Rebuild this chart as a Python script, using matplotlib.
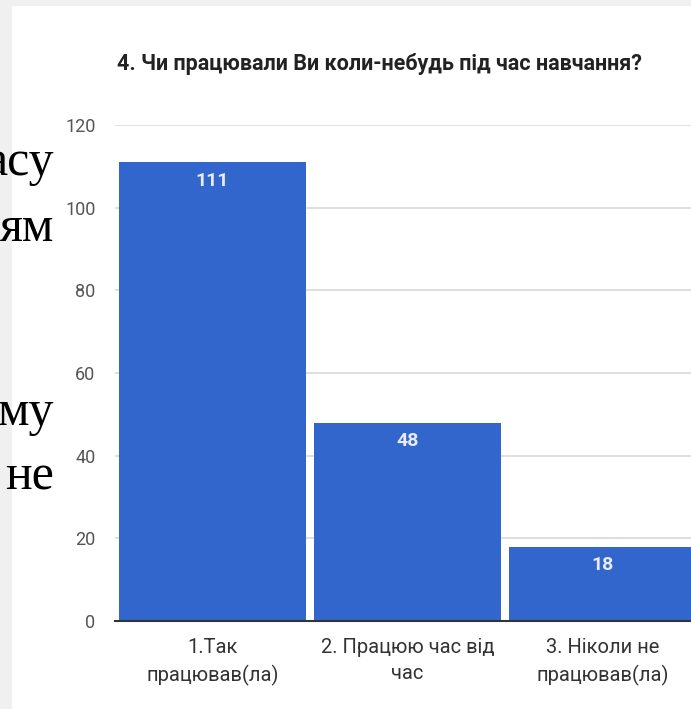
import matplotlib.pyplot as plt
import numpy as np

title = "4. Чи працювали Ви коли-небудь під час навчання?"
categories = ["1.Так\nпрацював(ла)", "2. Працюю час від\nчас", "3. Ніколи не\nпрацював(ла)"]
values = [111, 48, 18]
y_ticks = [0, 20, 40, 60, 80, 100, 120]
side_words = ["асу", "ям", "му", "не"]
side_baseline = [175, 241, 425, 490]

narrow = ['Roboto', 'DejaVu Sans']
W, H = 691, 709
fig = plt.figure(figsize=(W / 100, H / 100), dpi=100)
fig.patch.set_facecolor('#f0f0f0')

# white screenshot area
bg = fig.add_axes([12 / W, 0, 1 - 12 / W, 1 - 6 / H])
bg.axis('off')
bg.add_patch(plt.Rectangle((0, 0), 1, 1, color='white', transform=bg.transAxes))

# axes: x from 115px to 700px, y from 0 at 621px to 120 at 125px
left, right = 115, 700
bottom, top = 621, 125
ax = fig.add_axes([left / W, (H - bottom) / H, (right - left) / W, (bottom - top) / H])
ax.set_facecolor('none')
x = np.arange(len(values))
ax.bar(x, values, width=0.955, color='#3366cc', zorder=3)
ax.set_xlim(-0.5, 2.5)
ax.set_ylim(0, 120)
ax.set_yticks(y_ticks)
ax.set_yticklabels([str(v) for v in y_ticks], family=narrow, fontsize=13, color='#555555')
ax.grid(axis='y', color='#d9d9d9', linewidth=1.2, zorder=0)
ax.tick_params(axis='both', length=0, pad=14)
ax.set_xticks(x)
ax.set_xticklabels(categories, family=narrow, fontsize=14.5, color='#333333', linespacing=1.5)
ax.tick_params(axis='x', pad=12)
for s in ['top', 'right', 'left']:
    ax.spines[s].set_visible(False)
ax.spines['bottom'].set_color('#333333')
ax.spines['bottom'].set_linewidth(1.5)
ax.spines['bottom'].set_zorder(4)

for xi, v in zip(x, values):
    ax.text(xi, v - 2.3, str(v), ha='center', va='top', family=narrow,
            fontsize=14, fontweight='bold', color='#e6ecfa', zorder=5)

fig.text(117 / W, 1 - 70 / H, title, ha='left', va='baseline', family=narrow,
         fontsize=15.5, fontweight='bold', color='#222222')

for w, yy in zip(side_words, side_baseline):
    fig.text(54 / W, 1 - yy / H, w, ha='right', va='baseline',
             family='Liberation Serif', fontsize=36, color='black')

plt.savefig("out.png", dpi=100, facecolor=fig.get_facecolor())
